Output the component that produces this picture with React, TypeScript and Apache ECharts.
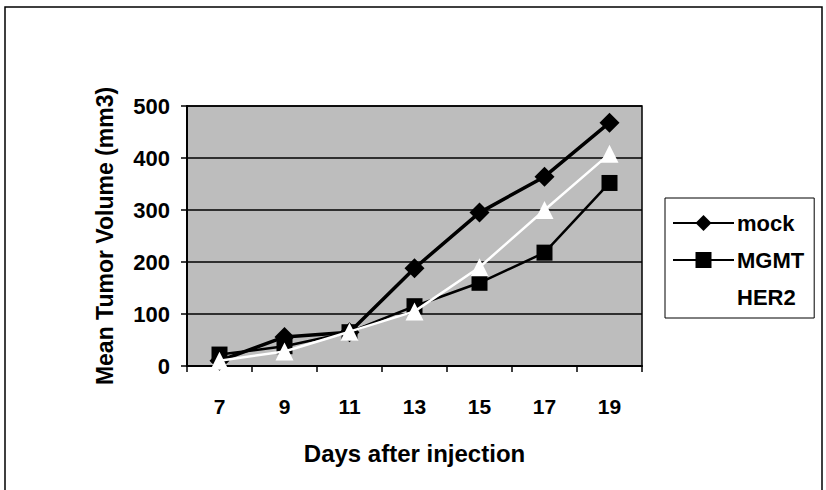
import React, { useEffect, useRef } from "react";
import * as echarts from "echarts";

const days = ["7", "9", "11", "13", "15", "17", "19"];
const mock = [10, 56, 65, 188, 295, 364, 468];
const mgmt = [22, 38, 65, 115, 160, 218, 352];
const her2 = [10, 28, 66, 105, 190, 300, 408];
const yTicks = [0, 100, 200, 300, 400, 500];

const FONT = "'Liberation Sans', Arial, sans-serif";

export default function App() {
  const ref = useRef<HTMLDivElement>(null);
  useEffect(() => {
    document.body.style.margin = "0";
    const chart = echarts.init(ref.current!, null, { renderer: "svg" });
    chart.setOption({
      animation: false,
      backgroundColor: "#ffffff",
      graphic: [
        {
          type: "rect",
          shape: { x: 5, y: 7, width: 817, height: 520 },
          style: { fill: "none", stroke: "#000", lineWidth: 1.5 },
          z: -1,
        },
      ],
      grid: {
        left: 187,
        top: 106,
        right: 184,
        bottom: 124,
        show: true,
        backgroundColor: "#bdbdbd",
        borderColor: "#000",
        borderWidth: 1.5,
      },
      legend: {
        orient: "vertical",
        left: 665,
        top: 198,
        padding: [14, 10, 10, 7],
        itemWidth: 61,
        itemHeight: 20,
        itemGap: 15,
        borderColor: "#000",
        borderWidth: 1,
        backgroundColor: "#fff",
        textStyle: { fontFamily: FONT, fontWeight: "bold", fontSize: 22, color: "#000", padding: [0, 0, 0, -2] },
        data: ["mock", "MGMT", "HER2"],
      },
      xAxis: {
        type: "category",
        data: days,
        boundaryGap: true,
        name: "Days after injection",
        nameLocation: "middle",
        nameGap: 75,
        nameTextStyle: { fontFamily: FONT, fontWeight: "bold", fontSize: 24, color: "#000" },
        axisLine: { lineStyle: { color: "#000", width: 2 } },
        axisTick: { show: true, length: 6, lineStyle: { color: "#000", width: 1.5 } },
        axisLabel: { fontFamily: FONT, fontWeight: "bold", fontSize: 21, color: "#000", margin: 30 },
      },
      yAxis: {
        type: "value",
        min: 0,
        max: 500,
        interval: 100,
        name: "Mean Tumor Volume (mm3)",
        nameLocation: "middle",
        nameGap: 71,
        nameTextStyle: { fontFamily: FONT, fontWeight: "bold", fontSize: 23, color: "#000" },
        axisLine: { show: true, lineStyle: { color: "#000", width: 2 } },
        axisTick: { show: true, length: 6, lineStyle: { color: "#000", width: 1.5 } },
        axisLabel: {
          fontFamily: FONT,
          fontWeight: "bold",
          fontSize: 22,
          color: "#000",
          margin: 17,
          formatter: (v: number) => (yTicks.includes(v) ? String(v) : ""),
        },
        splitLine: { show: true, lineStyle: { color: "#000", width: 1.5 } },
      },
      series: [
        {
          name: "mock",
          type: "line",
          data: mock,
          symbol: "diamond",
          symbolSize: 20,
          itemStyle: { color: "#000" },
          lineStyle: { color: "#000", width: 3.5 },
          z: 2,
        },
        {
          name: "MGMT",
          type: "line",
          data: mgmt,
          symbol: "rect",
          symbolSize: 16,
          itemStyle: { color: "#000" },
          lineStyle: { color: "#000", width: 2.5 },
          z: 3,
        },
        {
          name: "HER2",
          type: "line",
          data: her2,
          symbol: "triangle",
          symbolSize: 18,
          itemStyle: { color: "#fff" },
          lineStyle: { color: "#fff", width: 2.5 },
          z: 4,
        },
      ],
    });
    return () => chart.dispose();
  }, []);
  return <div ref={ref} style={{ width: 826, height: 490 }} />;
}
